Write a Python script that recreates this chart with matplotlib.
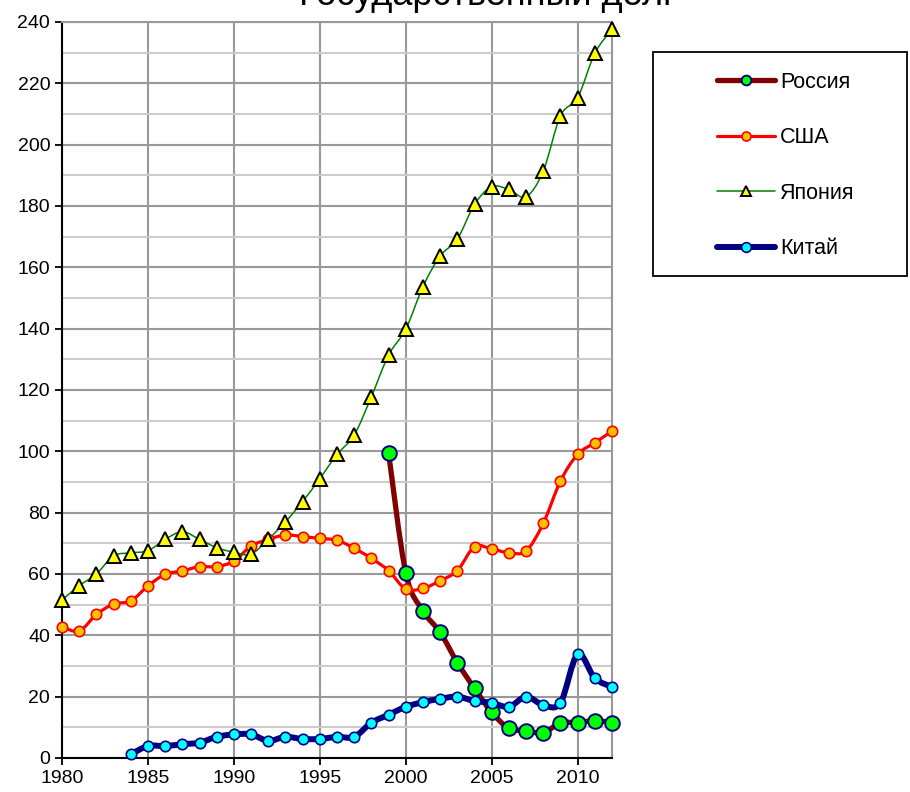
import numpy as np
import matplotlib
matplotlib.use("Agg")
import matplotlib.pyplot as plt
from matplotlib.path import Path
from matplotlib.patches import PathPatch, Rectangle
from matplotlib.lines import Line2D

plt.rcParams['font.family'] = ['Liberation Sans', 'DejaVu Sans']

# data
years_russia = list(range(1999, 2013))
russia = [99.5, 60.4, 48.0, 41.0, 31.1, 22.7, 14.9, 9.7, 8.9, 8.2, 11.5, 11.5, 12.2, 11.5]

years_usa = list(range(1980, 2013))
usa = [42.8, 41.4, 46.8, 50.2, 51.2, 56.1, 59.9, 61.0, 62.4, 62.4, 64.2, 69.1, 71.3,
       72.7, 72.2, 71.6, 71.0, 68.4, 65.1, 61.1, 55.1, 55.3, 57.8, 61.1, 68.9, 68.2,
       66.9, 67.5, 76.5, 90.3, 99.0, 102.8, 106.6]

years_japan = list(range(1980, 2013))
japan = [51.5, 56.2, 60.0, 65.9, 66.9, 67.6, 71.3, 73.8, 71.3, 68.6, 67.1, 66.5, 71.3,
         77.0, 83.6, 91.1, 99.0, 105.3, 117.8, 131.4, 139.8, 153.7, 163.7, 169.2, 180.5,
         186.3, 185.4, 183.0, 191.4, 209.4, 215.3, 229.8, 237.6]

years_china = list(range(1984, 2013))
china = [1.2, 3.9, 3.9, 4.5, 5.0, 6.9, 7.7, 7.7, 5.6, 6.9, 6.2, 6.2, 6.9, 6.9, 11.5,
         14.1, 16.7, 18.2, 19.3, 20.0, 18.6, 18.0, 16.7, 20.0, 17.3, 18.0, 33.8, 26.0, 23.2]

labels = ["Россия", "США", "Япония", "Китай"]


def smooth_path(x, y):
    # Excel-like smoothed line: cubic bezier segments through the points
    x = np.asarray(x, float)
    y = np.asarray(y, float)
    n = len(x)
    verts = [(x[0], y[0])]
    codes = [Path.MOVETO]
    for i in range(n - 1):
        i0 = max(i - 1, 0)
        i3 = min(i + 2, n - 1)
        c1 = (x[i] + (x[i + 1] - x[i0]) / 6, y[i] + (y[i + 1] - y[i0]) / 6)
        c2 = (x[i + 1] - (x[i3] - x[i]) / 6, y[i + 1] - (y[i3] - y[i]) / 6)
        verts += [c1, c2, (x[i + 1], y[i + 1])]
        codes += [Path.CURVE4] * 3
    return Path(verts, codes)


fig = plt.figure(figsize=(9.1, 7.92), dpi=100)
ax = fig.add_axes([62 / 910, 1 - 758 / 792, 550 / 910, 736 / 792])

series = [
    (years_russia, russia, dict(color='#800000', lw=3.8), dict(marker='o', ms=10.5, mfc='#00ff00', mec='#000080', mew=1.4), 7),
    (years_usa, usa, dict(color='#ff0000', lw=2.3), dict(marker='o', ms=7.5, mfc='#ffc000', mec='#ff0000', mew=1.2), 6.5),
    (years_japan, japan, dict(color='#008000', lw=1.1), dict(marker='^', ms=9.5, mfc='#ffff00', mec='black', mew=1.4), 7.5),
    (years_china, china, dict(color='#000080', lw=4.3), dict(marker='o', ms=7.5, mfc='#00ffff', mec='#000080', mew=1.2), 7),
]

handles = []
for k, (xs, ys, lst, mst, lms) in enumerate(series):
    patch = PathPatch(smooth_path(xs, ys), facecolor='none', edgecolor=lst['color'],
                      lw=lst['lw'], zorder=2 + k * 0.1, capstyle='round', joinstyle='round')
    ax.add_patch(patch)
for k, (xs, ys, lst, mst, lms) in enumerate(series):
    ax.plot(xs, ys, linestyle='none', zorder=3 + k * 0.1, clip_on=False, **mst)
    hst = dict(mst)
    hst['ms'] = lms
    handles.append(Line2D([], [], color=lst['color'], lw=lst['lw'], solid_capstyle='round', **hst))

ax.set_xlim(1980, 2012)
ax.set_ylim(0, 240)
ax.set_xticks(range(1980, 2011, 5))
ax.set_yticks(range(0, 241, 20))
ax.set_yticks(range(10, 240, 20), minor=True)
ax.tick_params(axis='both', which='major', labelsize=14, direction='out', length=5, width=1.3, color='black')
ax.tick_params(axis='y', which='minor', length=0)
ax.grid(True, which='major', color='#999999', lw=1.5, zorder=0)
ax.grid(True, which='minor', axis='y', color='#cccccc', lw=1.5, zorder=0)
ax.set_axisbelow(True)
for side in ['top', 'right']:
    ax.spines[side].set_color('#999999')
    ax.spines[side].set_linewidth(1.5)
for side in ['left', 'bottom']:
    ax.spines[side].set_color('black')
    ax.spines[side].set_linewidth(1.5)

# title sits partly above the top edge, as in the original
fig.text(488 / 910, 1 - 5 / 792, "Государственный долг", fontsize=26, ha='center', va='baseline')

# legend box
fig.patches.append(Rectangle((653 / 910, 1 - 276 / 792), 254 / 910, 224 / 792,
                             transform=fig.transFigure, facecolor='white',
                             edgecolor='black', lw=1.3, zorder=1))
leg = fig.legend(handles, labels, loc='upper left', bbox_to_anchor=(717 / 910, 1 - 72 / 792),
                 frameon=False, fontsize=15.5, borderpad=0, borderaxespad=0,
                 handlelength=2.7, handletextpad=0.23, labelspacing=1.6)
leg.set_zorder(5)

fig.savefig("out.png", dpi=100)
